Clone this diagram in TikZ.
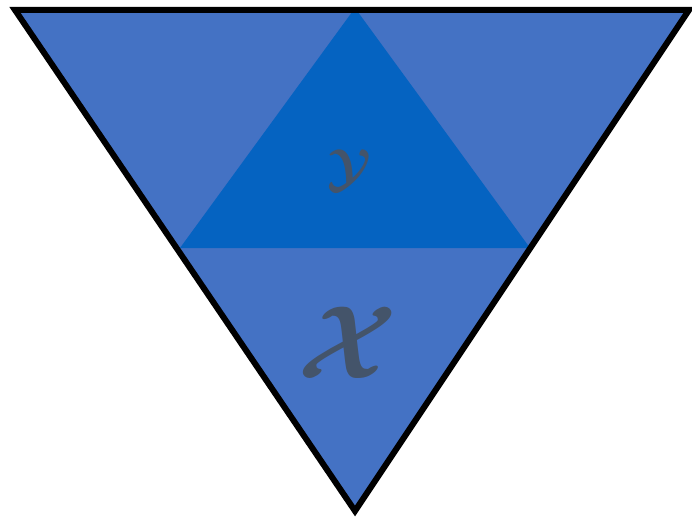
\documentclass[tikz,border=0pt]{standalone}
\definecolor{outerblue}{HTML}{4472C4}
\definecolor{innerblue}{HTML}{0563C1}
\definecolor{labelgray}{HTML}{44546A}
\tikzset{
  lbl/.style={text=labelgray, inner sep=0pt, font=\boldmath},
}
\begin{document}
\begin{tikzpicture}[x=1pt,y=-1pt]
\useasboundingbox (0,0) rectangle (692,519);
\coordinate (TL) at (15,10);
\coordinate (TR) at (689,10);
\coordinate (B) at (355,511);
\coordinate (A) at (355,8);
\coordinate (L) at (180,248);
\coordinate (R) at (530,248);
\fill[outerblue] (TL) -- (TR) -- (B) -- cycle;
\fill[innerblue] (A) -- (R) -- (L) -- cycle;
\draw[line width=6pt, line join=miter] (TL) -- (TR) -- (B) -- cycle;
\node[lbl, scale=5.2] (y) at (349,170) {$\mathcal{Y}$};
\node[lbl, scale=10.4] (x) at (348,343) {$\mathcal{X}$};
\end{tikzpicture}
\end{document}
